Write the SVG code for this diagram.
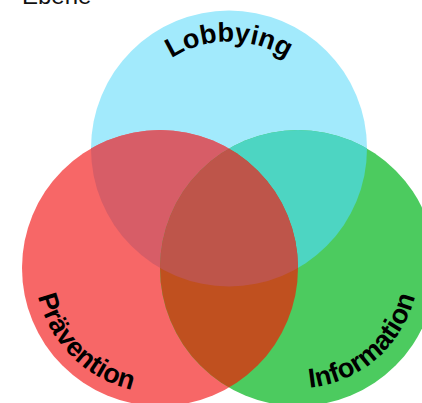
<svg xmlns="http://www.w3.org/2000/svg" width="422" height="403" viewBox="0 0 422 403">
<style>
.lbl{font-family:"Liberation Sans",Arial,sans-serif;font-weight:bold;font-size:27px;fill:#000}
.ttl{font-family:"Liberation Sans",Arial,sans-serif;font-size:24px;fill:#111}
</style>
<defs>
<clipPath id="cc"><circle cx="229" cy="148.5" r="138"/></clipPath>
<clipPath id="cr"><circle cx="160" cy="268" r="138"/></clipPath>
<clipPath id="cg"><circle cx="298" cy="268" r="138"/></clipPath>
<path id="pL" d="M122,148.5 A107,107 0 0 1 336,148.5"/>
<path id="pP" d="M71.6,179.6 A125,125 0 0 0 248.4,356.4"/>
<path id="pI" d="M206.7,347.4 A121,121 0 0 0 389.3,188.6"/>
</defs>
<text class="ttl" x="22" y="4">Ebene</text>
<g id="lobbying">
<circle cx="229" cy="148.5" r="138" fill="#A2EAFC"/>
</g>
<g id="praevention">
<circle cx="160" cy="268" r="138" fill="#F76767"/>
</g>
<g id="information">
<circle cx="298" cy="268" r="138" fill="#4CCB5F"/>
</g>
<g id="overlaps">
<circle cx="160" cy="268" r="138" fill="#D75D67" clip-path="url(#cc)"/>
<circle cx="298" cy="268" r="138" fill="#4DD5C2" clip-path="url(#cc)"/>
<circle cx="298" cy="268" r="138" fill="#C0501F" clip-path="url(#cr)"/>
<g clip-path="url(#cc)"><circle cx="298" cy="268" r="138" fill="#BE554A" clip-path="url(#cr)"/></g>
</g>
<g id="labels">
<text class="lbl"><textPath href="#pL" startOffset="50%" text-anchor="middle">Lobbying</textPath></text>
<text class="lbl"><textPath href="#pP" startOffset="50%" text-anchor="middle">Prävention</textPath></text>
<text class="lbl"><textPath href="#pI" startOffset="50%" text-anchor="middle">Information</textPath></text>
</g>
<g id="connectors"/>
</svg>
